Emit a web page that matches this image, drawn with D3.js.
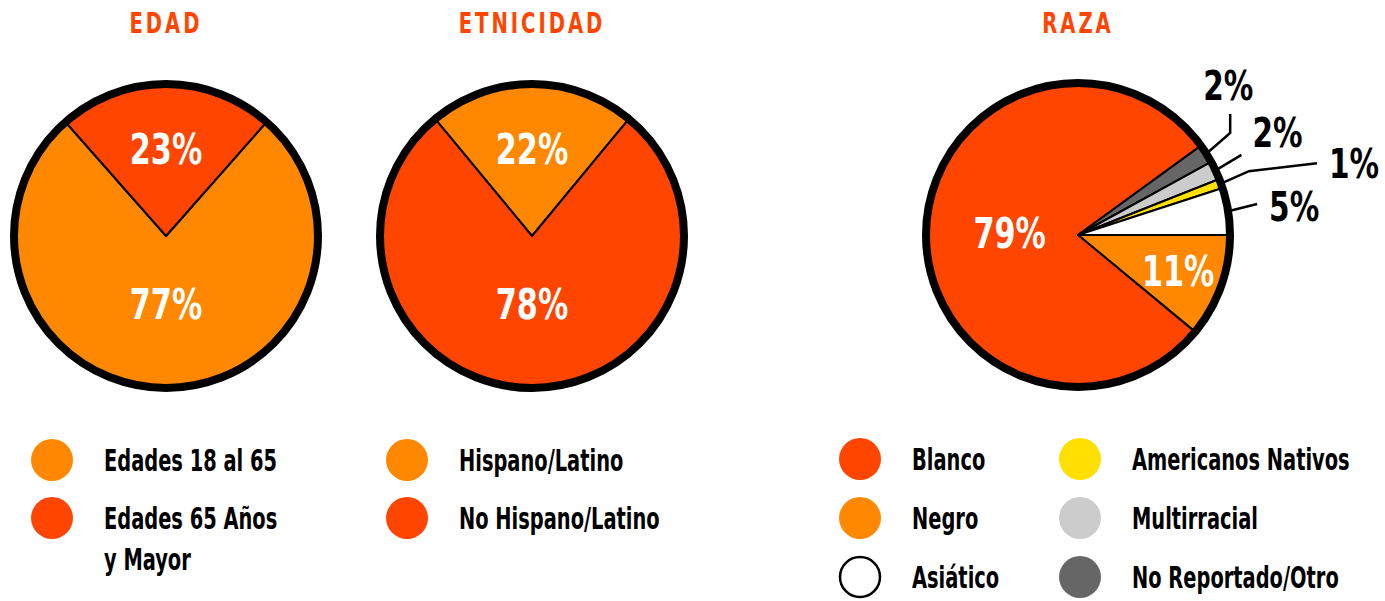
<!DOCTYPE html>
<html>
<head>
<meta charset="utf-8">
<script src="https://cdn.jsdelivr.net/npm/d3@7"></script>
<style>
  body { margin: 0; background: #fff; }
  svg { display: block; font-family: "Liberation Sans Narrow", "DejaVu Sans Condensed", sans-serif; font-weight: bold; }
</style>
</head>
<body>
<svg id="chart" width="1385" height="601"></svg>
<script>
// colours shared by the three pies
const RED = "#ff4500", ORANGE = "#ff8800", YELLOW = "#ffe000",
      LIGHT = "#cccccc", DARK = "#666666", WHITE = "#ffffff";

/* EDAD */
const edadLabels = ["Edades 18 al 65", "Edades 65 Años y Mayor"];
const edadValues = [77, 23];
const edadColors = [ORANGE, RED];

/* ETNICIDAD */
const etniLabels = ["Hispano/Latino", "No Hispano/Latino"];
const etniValues = [22, 78];
const etniColors = [ORANGE, RED];

/* RAZA - pie order, clockwise from 3 o'clock */
const razaLabels = ["Negro", "Blanco", "No Reportado/Otro", "Multirracial", "Americanos Nativos", "Asiático"];
const razaValues = [11, 79, 2, 2, 1, 5];
const razaColors = [ORANGE, RED, DARK, LIGHT, YELLOW, WHITE];
const razaLegendOrder = ["Blanco", "Negro", "Asiático", "Americanos Nativos", "Multirracial", "No Reportado/Otro"];

const svg = d3.select("#chart");
const r = 152;

// no condensed display font available -> squeeze the text horizontally
function ctext(parent, x, y, size, sx, anchor) {
  return parent.append("text")
    .attr("transform", `translate(${x},${y}) scale(${sx},1)`)
    .attr("text-anchor", anchor || "start")
    .style("font-size", size + "px");
}

function drawPie(cfg) {
  ctext(svg, cfg.cx, 33, 29, 0.75, "middle")
    .attr("fill", RED)
    .style("letter-spacing", "4px")
    .text(cfg.title);

  const g = svg.append("g").attr("transform", `translate(${cfg.cx},${cfg.cy})`);
  const pie = d3.pie().sort(null).value(d => d.v)
    .startAngle(cfg.start).endAngle(cfg.start + 2 * Math.PI);
  const arcs = pie(cfg.values.map((v, i) => ({ v, c: cfg.colors[i], name: cfg.labels[i] })));
  const arc = d3.arc().innerRadius(0).outerRadius(r);

  g.selectAll("path.slice").data(arcs).join("path")
    .attr("class", "slice")
    .attr("d", arc)
    .attr("fill", d => d.data.c)
    .attr("stroke", "#000")
    .attr("stroke-width", 2)
    .attr("stroke-linejoin", "round");

  g.append("circle").attr("r", r).attr("fill", "none")
    .attr("stroke", "#000").attr("stroke-width", 8);

  // labels inside the bigger slices
  arcs.filter(d => d.data.v >= 10).forEach(d => {
    const k = d.data.v > 50 ? 0.45 : d.data.v >= 20 ? 0.57 : 0.7;
    const [x, y] = d3.arc().innerRadius(r * k).outerRadius(r * k).centroid(d);
    ctext(g, x, y + 15, 42, 0.8, "middle")
      .attr("fill", "#fff")
      .text(d.data.v + "%");
  });
  return { g, arcs };
}

// two-slice pies: minor slice centred at 12 o'clock
drawPie({ title: "EDAD", cx: 166, cy: 236, start: edadValues[1] / 100 * Math.PI,
  values: edadValues, colors: edadColors, labels: edadLabels });
drawPie({ title: "ETNICIDAD", cx: 532, cy: 236, start: -etniValues[0] / 100 * Math.PI,
  values: etniValues, colors: etniColors, labels: etniLabels });
const raza = drawPie({ title: "RAZA", cx: 1078, cy: 235, start: Math.PI / 2,
  values: razaValues, colors: razaColors, labels: razaLabels });

// callouts for the thin raza slices: offsets from the slice edge point
const callouts = {
  "No Reportado/Otro": { pts: [[23, -20], [23, -39]], txt: [21, -53], anchor: "middle" },
  "Multirracial": { pts: [[25, -15]], txt: [36, -23], anchor: "start" },
  "Americanos Nativos": { pts: [[27, -12], [95, -20]], txt: [107, -5], anchor: "start" },
  "Asiático": { pts: [[28, -7]], txt: [40, 10], anchor: "start" }
};
raza.arcs.filter(d => callouts[d.data.name]).forEach(d => {
  const c = callouts[d.data.name];
  const [sx, sy] = d3.arc().innerRadius(r + 1).outerRadius(r + 1).centroid(d);
  const line = [[sx, sy]].concat(c.pts.map(p => [sx + p[0], sy + p[1]]));
  raza.g.append("path")
    .attr("d", d3.line()(line))
    .attr("fill", "none").attr("stroke", "#000").attr("stroke-width", 2.5);
  ctext(raza.g, sx + c.txt[0], sy + c.txt[1], 41, 0.8, c.anchor)
    .attr("fill", "#000")
    .text(d.data.v + "%");
});

/* legends */
function legend(items, x, y0, step) {
  items.forEach((it, i) => {
    const y = y0 + i * step;
    svg.append("circle").attr("cx", x).attr("cy", y).attr("r", it.c === WHITE ? 20 : 21)
      .attr("fill", it.c)
      .attr("stroke", it.c === WHITE ? "#000" : "none").attr("stroke-width", 2.5);
    const t = ctext(svg, x + 52, y + 11, 30, 0.72).attr("fill", "#000");
    // the long age label wraps onto two lines
    const parts = it.name === "Edades 65 Años y Mayor" ? ["Edades 65 Años", "y Mayor"] : [it.name];
    parts.forEach((p, j) => t.append("tspan").attr("x", 0).attr("dy", j ? 41 : 0).text(p));
  });
}
legend(edadLabels.map((n, i) => ({ name: n, c: edadColors[i] })), 52, 460, 58);
legend(etniLabels.map((n, i) => ({ name: n, c: etniColors[i] })), 407, 460, 58);
const razaItems = razaLegendOrder.map(n => ({ name: n, c: razaColors[razaLabels.indexOf(n)] }));
legend(razaItems.slice(0, 3), 860, 459, 59);
legend(razaItems.slice(3), 1080, 459, 59);
</script>
</body>
</html>
